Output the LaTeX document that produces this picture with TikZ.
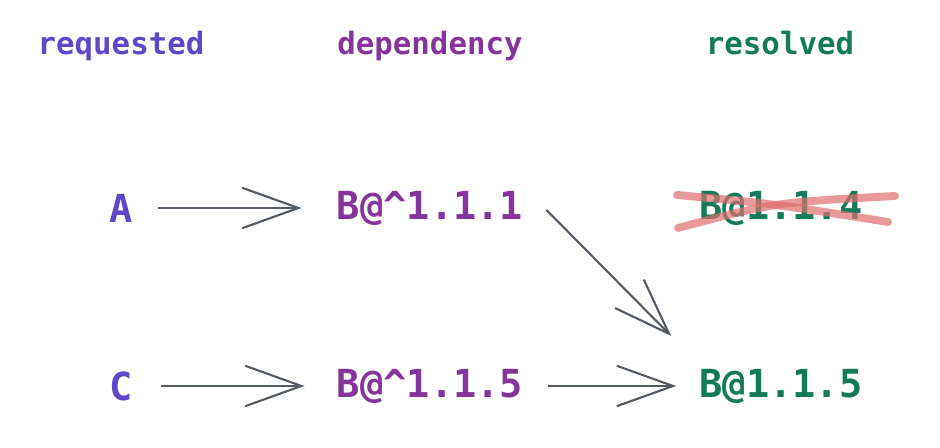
\documentclass[tikz,border=0pt]{standalone}
\usepackage{fontspec}
\setmonofont{DejaVu Sans Mono}
\usetikzlibrary{arrows.meta}

\definecolor{reqcolor}{RGB}{95,71,199}
\definecolor{depcolor}{RGB}{133,52,156}
\definecolor{rescolor}{RGB}{19,122,90}
\definecolor{arrowcolor}{RGB}{84,90,99}
\definecolor{strikecolor}{RGB}{222,110,110}

\tikzset{
    header/.style = {inner sep=0pt, anchor=base, font=\ttfamily\bfseries\fontsize{17.5}{20}\selectfont},
    label/.style = {inner sep=0pt, font=\ttfamily\bfseries\fontsize{22}{26}\selectfont},
    arr/.style = {draw=arrowcolor, line width=1.2pt,
        -{Straight Barb[length=32pt, width=23pt, line width=1.2pt]}},
    strike/.style = {draw=strikecolor, line width=4.5pt, line cap=round, opacity=0.7}
}

\begin{document}
\begin{tikzpicture}
    \useasboundingbox (0,0) rectangle (18.8,8.96);

    % column headers
    \node[header, text=reqcolor] (hreq) at (2.42,7.86) {requested};
    \node[header, text=depcolor] (hdep) at (8.6,7.86) {dependency};
    \node[header, text=rescolor] (hres) at (15.6,7.86) {resolved};

    % first row
    \node[label, text=reqcolor] (A) at (2.42,4.8) {A};
    \node[label, text=depcolor] (dep1) at (8.6,4.8) {B@\textasciicircum 1.1.1};
    \node[label, text=rescolor] (res1) at (15.62,4.8) {B@1.1.4};

    % second row
    \node[label, text=reqcolor] (C) at (2.42,1.24) {C};
    \node[label, text=depcolor] (dep2) at (8.6,1.24) {B@\textasciicircum 1.1.5};
    \node[label, text=rescolor] (res2) at (15.62,1.24) {B@1.1.5};

    \draw[arr, shorten <=0.5cm, shorten >=0.7cm] (A.east) -- (dep1.west);
    \draw[arr, shorten <=0.56cm, shorten >=0.64cm] (C.east) -- (dep2.west);
    \draw[arr, shorten <=0.5cm, shorten >=0.46cm] (dep2.east) -- (res2.west);
    \draw[arr] ([xshift=0.46cm, yshift=-0.04cm]dep1.east) -- ([xshift=-0.56cm, yshift=1.0cm]res2.west);

    % crossed out version
    \draw[strike] (13.54,5.06) .. controls (15.50,4.88) .. (17.76,4.52);
    \draw[strike] (13.56,4.40) .. controls (15.48,4.91) .. (17.9,5.04);
\end{tikzpicture}
\end{document}
